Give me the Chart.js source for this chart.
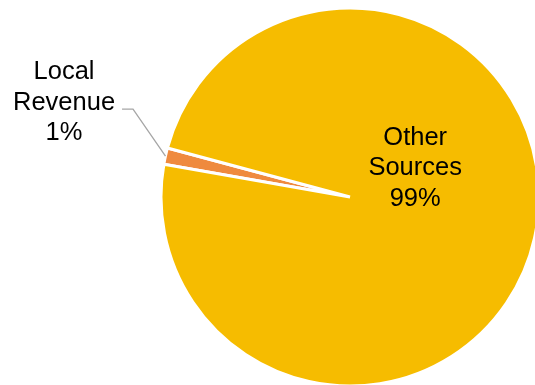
<!DOCTYPE html>
<html>
<head>
<meta charset="utf-8">
<script src="https://cdn.jsdelivr.net/npm/chart.js@4/dist/chart.umd.min.js"></script>
<style>
  html, body { margin: 0; padding: 0; background: #fff; }
  #wrap { width: 535px; height: 385px; position: relative; }
</style>
</head>
<body>
<div id="wrap"><canvas id="c" width="535" height="385"></canvas></div>
<script>
const categories = ["Local Revenue", "Other Sources"];
const labelLines = [["Local", "Revenue"], ["Other", "Sources"]];
const values = [1.4, 98.6];
const colors = ["#EF8A3E", "#F6BC00"];

const FONT = '25.5px "Liberation Sans", Arial, sans-serif';
const LINE_H = 30.5;

function pct(v, total) { return Math.round(v / total * 100) + "%"; }

const labelPlugin = {
  id: "pieLabels",
  afterDatasetsDraw(chart) {
    const ctx = chart.ctx;
    const meta = chart.getDatasetMeta(0);
    const total = values.reduce((a, b) => a + b, 0);
    ctx.save();
    ctx.font = FONT;
    ctx.fillStyle = "#000";
    ctx.textAlign = "center";
    ctx.textBaseline = "alphabetic";
    meta.data.forEach((arc, i) => {
      const p = arc.getProps(["x", "y", "startAngle", "endAngle", "outerRadius"], true);
      const R = p.outerRadius;
      const lines = labelLines[i].concat([pct(values[i], total)]);
      if (i === 1) {
        // inside label
        const lx = p.x + 0.345 * R;
        const midBase = p.y - 0.115 * R;
        lines.forEach((t, k) => ctx.fillText(t, lx, midBase + (k - 1) * LINE_H));
      } else {
        // outside label with leader line
        const mid = (p.startAngle + p.endAngle) / 2;
        const ex = p.x + Math.cos(mid) * R;
        const ey = p.y + Math.sin(mid) * R;
        const bx = p.x - 1.148 * R;
        const by = p.y - 0.465 * R;
        const hx = bx - 11;
        ctx.strokeStyle = "#A6A6A6";
        ctx.lineWidth = 1.3;
        ctx.beginPath();
        ctx.moveTo(ex, ey);
        ctx.lineTo(bx, by);
        ctx.lineTo(hx, by);
        ctx.stroke();
        const lx = hx - 58;
        const midBase = by + 0.5;
        lines.forEach((t, k) => ctx.fillText(t, lx, midBase + (k - 1) * LINE_H));
      }
    });
    ctx.restore();
  }
};

new Chart(document.getElementById("c"), {
  type: "pie",
  data: {
    labels: categories,
    datasets: [{
      data: values,
      backgroundColor: colors,
      borderColor: "#ffffff",
      borderWidth: 3,
      hoverOffset: 0,
      offset: 0,
      clip: false
    }]
  },
  options: {
    responsive: false,
    animation: false,
    rotation: 280,
    radius: 189,
    layout: { padding: { left: 165, right: 0, top: 9, bottom: 0 } },
    plugins: {
      legend: { display: false },
      tooltip: { enabled: false },
      title: { display: false }
    },
    events: []
  },
  plugins: [labelPlugin]
});
</script>
</body>
</html>
